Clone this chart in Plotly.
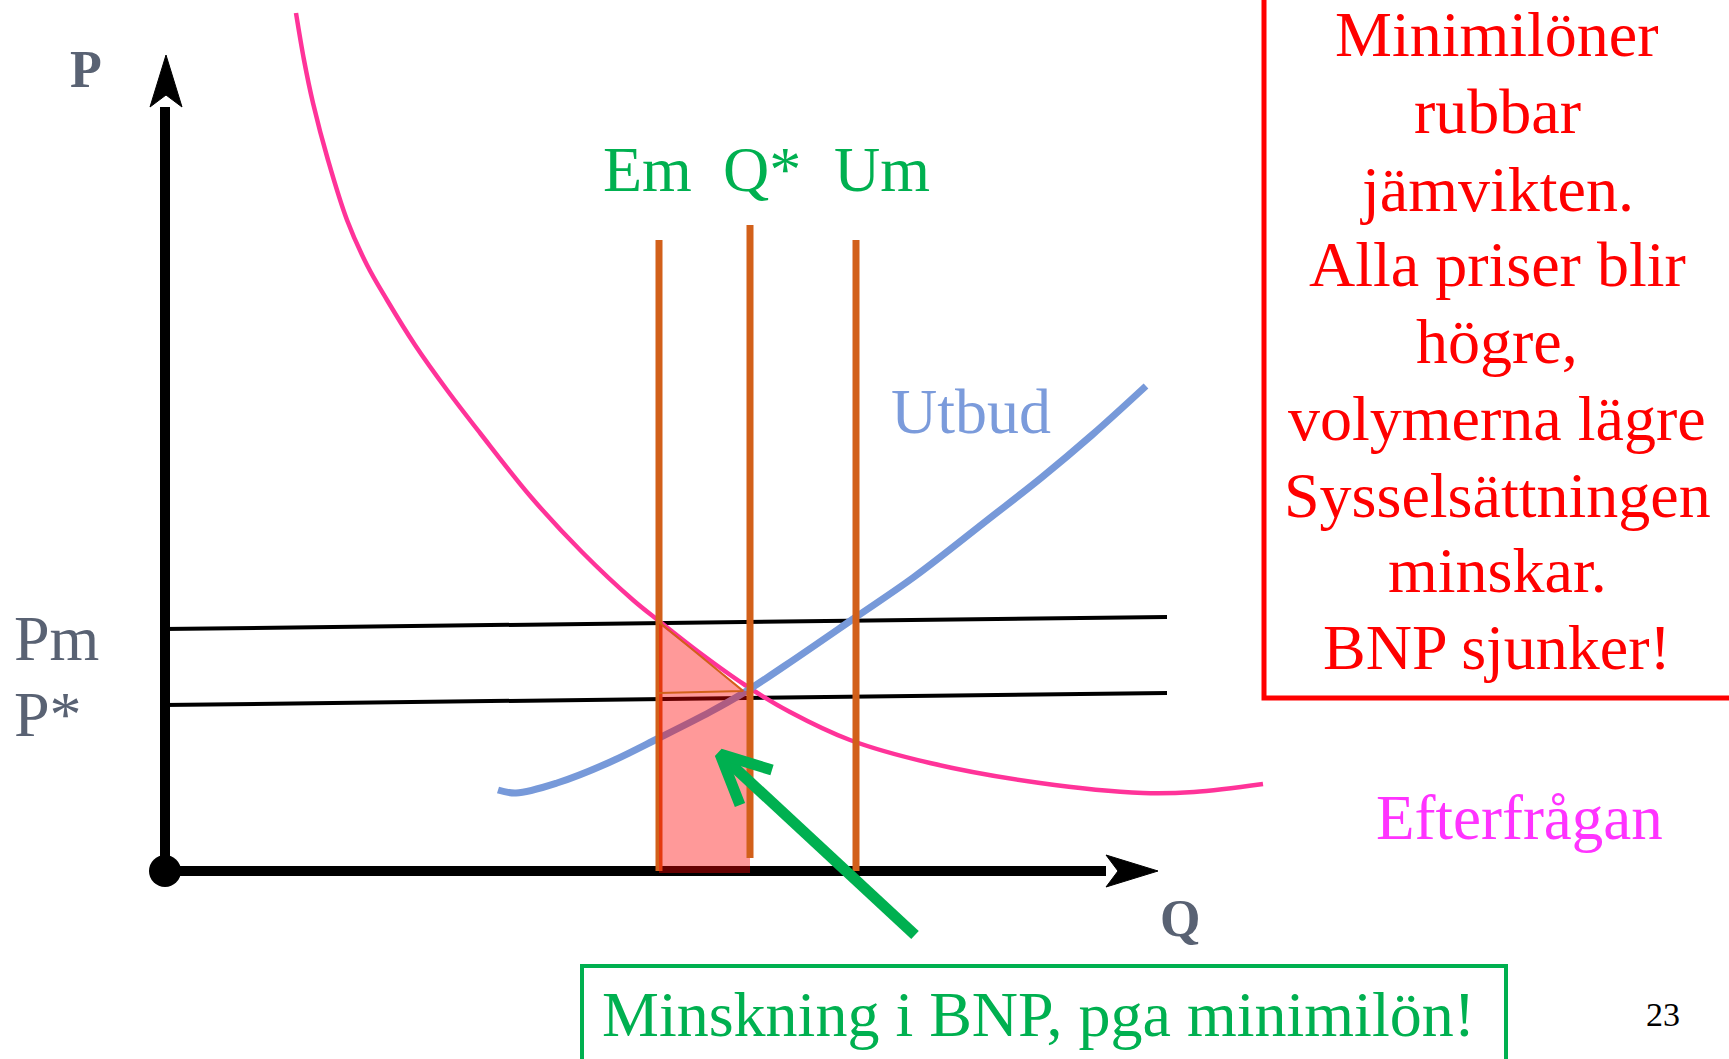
import plotly.graph_objects as go

# Koordinater i "pixelenheter" räknat från origo (Q åt höger, P uppåt)
efterfragan_q = [131, 139, 148, 163, 182, 202, 222, 250, 282, 315, 366, 417, 468, 494, 535,
                 580, 625, 685, 765, 875, 978, 1029, 1098]
efterfragan_p = [858, 811, 768, 711, 651, 606, 571, 526, 481, 438, 374, 319, 271, 250, 218,
                 186, 159, 131, 108, 88, 78, 79, 87]

utbud_q = [333, 351, 392, 443, 494, 545, 580, 621, 691, 749, 825, 876, 927, 981]
utbud_p = [81, 78, 88, 108, 133, 159, 179, 206, 254, 294, 353, 393, 436, 485]

# Prisnivåer (lite lutande linjer)
pm_q = [-2, 1002]
pm_p = [242, 254]
pstjarna_q = [-2, 1002]
pstjarna_p = [166, 178]

# Kvantiteter: Em, Q*, Um
em_q = [494, 494]
em_p = [0, 631]
qstjarna_q = [585, 585]
qstjarna_p = [13, 646]
um_q = [691, 691]
um_p = [0, 631]

# Förlorad BNP (skuggat område)
forlust_q = [494, 580, 585, 585, 494]
forlust_p = [249, 180, 180, -2, -2]
triangel_q = [494, 578, 494]
triangel_p = [249, 180, 178]

# Axlar och pilar
yaxel_q = [0, 0]
yaxel_p = [0, 764]
ypil_q = [1, -15, 1, 17, 1]
ypil_p = [816, 764, 776, 764, 816]
xaxel_q = [0, 941]
xaxel_p = [0, 0]
xpil_q = [993, 941, 953, 941, 993]
xpil_p = [0, 16, 0, -16, 0]

# Grön pil mot det skuggade området
gronpil_q = [750, 557]
gronpil_p = [-64, 115]
gronspets_q = [607, 555, 575]
gronspets_p = [101, 117, 66]

rod_text = ["Minimilöner", "rubbar", "jämvikten.", "Alla priser blir", "högre,",
            "volymerna lägre", "Sysselsättningen", "minskar.", "BNP sjunker!"]
rod_text_p = [837, 760, 682, 607, 530, 453, 376, 301, 224]

ORANGE = '#d2601a'
GRON = '#00b050'
GRA = '#596273'
SERIF = 'Liberation Serif, Times New Roman, serif'

fig = go.Figure()

def linje(q, p, color, width, fill=None, fillcolor=None, shape='linear'):
    fig.add_trace(go.Scatter(
        x=q, y=p, mode='lines', line=dict(color=color, width=width, shape=shape),
        fill=fill, fillcolor=fillcolor, hoverinfo='skip', showlegend=False
    ))

# Axlar
linje(yaxel_q, yaxel_p, 'black', 10)
linje(ypil_q, ypil_p, 'black', 1, fill='toself', fillcolor='black')
linje(xaxel_q, xaxel_p, 'black', 10)
linje(xpil_q, xpil_p, 'black', 1, fill='toself', fillcolor='black')
fig.add_trace(go.Scatter(x=[0], y=[0], mode='markers', marker=dict(color='black', size=32),
                         hoverinfo='skip', showlegend=False))

# Prislinjer
linje(pm_q, pm_p, 'black', 4)
linje(pstjarna_q, pstjarna_p, 'black', 4)

# Kurvor
linje(efterfragan_q, efterfragan_p, '#ff3399', 4.5, shape='spline')
linje(utbud_q, utbud_p, '#7799d9', 7, shape='spline')

linje(em_q, em_p, ORANGE, 7)

# Skuggat område
linje(forlust_q, forlust_p, 'rgba(0,0,0,0)', 0, fill='toself', fillcolor='rgba(255,0,0,0.4)')
linje(triangel_q, triangel_p, ORANGE, 2)

linje(qstjarna_q, qstjarna_p, ORANGE, 7)
linje(um_q, um_p, ORANGE, 7)

# Grön pil
linje(gronpil_q, gronpil_p, GRON, 11)
linje(gronspets_q, gronspets_p, GRON, 11)

# Textrutor
fig.add_shape(type='rect', x0=1099, x1=1590, y0=173, y1=900,
              line=dict(color='#ff0000', width=5))
fig.add_shape(type='rect', x0=417, x1=1341, y0=-95, y1=-220,
              line=dict(color=GRON, width=4))

def text(q, p, s, color, size, xanchor='center', bold=False):
    fig.add_annotation(x=q, y=p, text=f'<b>{s}</b>' if bold else s, showarrow=False,
                       xanchor=xanchor, yanchor='middle',
                       font=dict(family=SERIF, size=size, color=color))

text(-79, 802, 'P', GRA, 52, bold=True)
text(1015, -47, 'Q', GRA, 52, bold=True)
text(-153, 233, 'Pm', GRA, 64, xanchor='left')
text(-153, 157, 'P*', GRA, 64, xanchor='left')
text(482, 702, 'Em', GRON, 64)
text(597, 702, 'Q*', GRON, 64)
text(717, 702, 'Um', GRON, 64)
text(806, 460, 'Utbud', '#7b9bdb', 64)
text(1354, 53, 'Efterfrågan', '#ff33ff', 63)
for s, p in zip(rod_text, rod_text_p):
    text(1332, p, s, '#ff0000', 64)
text(873, -143, 'Minskning i BNP, pga minimilön!', GRON, 64)
text(1498, -143, '23', 'black', 34)

fig.update_layout(
    width=1729, height=1059,
    margin=dict(l=0, r=0, t=0, b=0),
    plot_bgcolor='white', paper_bgcolor='white',
    xaxis=dict(range=[-165, 1564], visible=False, fixedrange=True),
    yaxis=dict(range=[-188, 871], visible=False, fixedrange=True),
)

fig.write_html("out.html", config=dict(displayModeBar=False),
               post_script="document.body.style.margin='0px';")
